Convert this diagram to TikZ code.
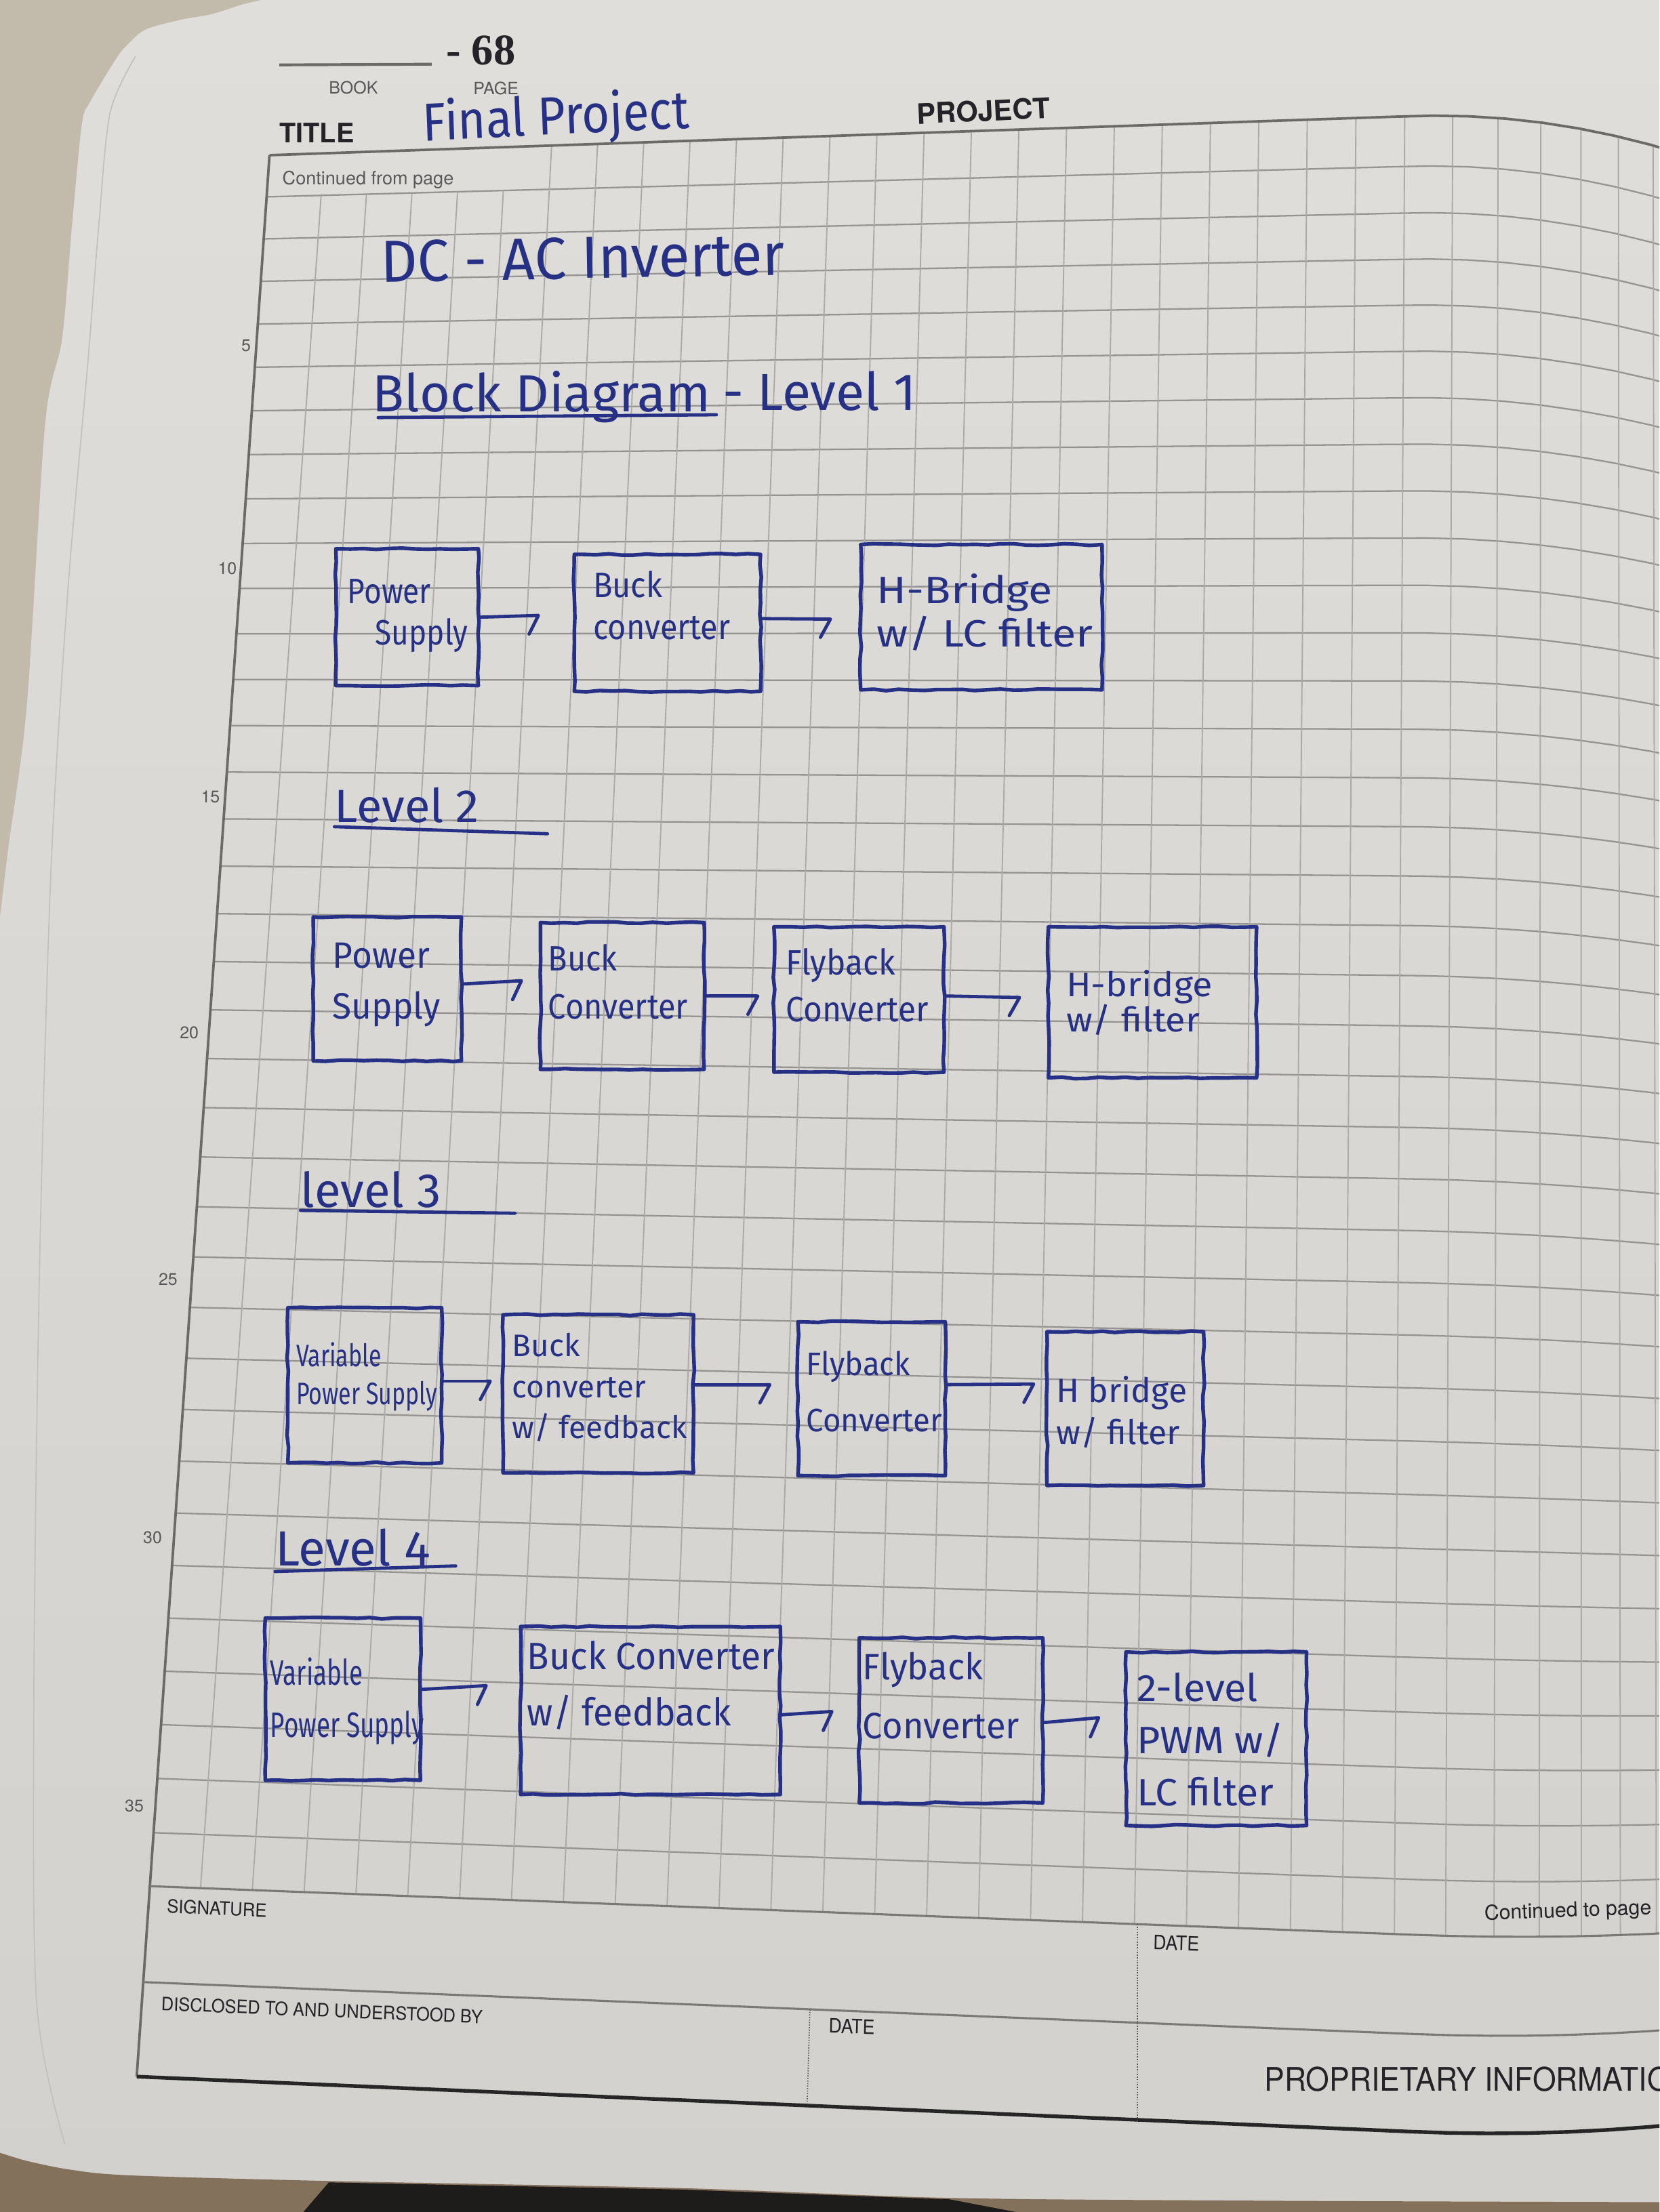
\documentclass[tikz,border=0pt]{standalone}
\usepackage{fontspec}
\usetikzlibrary{arrows.meta,calc,decorations.pathmorphing}
\newfontfamily\handfont{Fira Sans}
\newfontfamily\printfont{TeX Gyre Heros}
\newfontfamily\numfont{Liberation Serif}
\newcommand{\handsz}[2]{\handfont\fontsize{#1}{#2}\selectfont}
\newcommand{\printsz}[1]{\printfont\fontsize{#1}{#1}\selectfont}
\definecolor{ink}{RGB}{38,48,132}
\definecolor{paperlight}{RGB}{223,222,218}
\definecolor{paperdark}{RGB}{211,209,205}
\definecolor{desk}{RGB}{194,186,171}
\definecolor{deskbrown}{RGB}{132,113,92}
\definecolor{deskdark}{RGB}{30,28,27}
\definecolor{colgridh}{RGB}{150,148,146}
\definecolor{colgridv}{RGB}{172,170,168}
\definecolor{colrule}{RGB}{108,106,104}
\definecolor{printed}{RGB}{36,36,40}
\definecolor{faint}{RGB}{88,88,90}
\begin{document}
\pgfmathsetseed{11}
\begin{tikzpicture}[x=1pt,y=-1pt,
  declare function={
    gxl(\w)=191-0.0691*(\w-110);
    gsl(\w)=-0.0345+0.073*(max((\w-110)/1227,0.0001))^0.6;
    gq(\z)=max(0,(\z-1000)/176);
    gy(\w,\z)=\w+gsl(\w)*(\z-gxl(\w))+0.0291*(1074-\w)*gq(\z)*gq(\z);
    gcx(\z)=\z-0.00081*(max(0,\z-1000))*(max(0,\z-1000));
  },
  hw/.style={text=ink, inner sep=0pt, align=left},
  blk/.style={draw=ink, line width=2.6pt, line join=round, decorate,
    decoration={random steps, segment length=9pt, amplitude=0.6pt}, inner sep=0pt},
  conn/.style={draw=ink, line width=2.3pt, line cap=round,
    -{Straight Barb[harpoon,swap,length=7pt,width=26pt,round]}},
  inkline/.style={draw=ink, line width=2.3pt, line cap=round},
  gridh/.style={draw=colgridh, line width=1.1pt},
  gridv/.style={draw=colgridv, line width=0.9pt},
  pageframe/.style={draw=colrule, line width=1.8pt},
  footrule/.style={draw=colrule!90, line width=1.5pt},
  botrule/.style={draw=black!85, line width=2.6pt},
  divider/.style={draw=faint, line width=0.8pt, densely dotted},
  lbl/.style={text=printed, inner sep=0pt},
  small/.style={text=faint, inner sep=0pt},
]
\useasboundingbox (0,0) rectangle (1176,1568);
\clip (0,0) rectangle (1176,1568);

% paper, desk and the page stack
\shade[top color=paperlight, bottom color=paperdark] (0,0) rectangle (1176,1568);
\fill[desk] (0,0) -- (185,0) -- plot[smooth] coordinates {(172,3) (150,10) (128,14) (103,21) (90,32) (82,42) (64,72) (58,88) (51,160) (44,240) (32,300) (19,500) (6,600) (0,650)} -- cycle;
\draw[paperdark!92!black, line width=0.8pt] plot[smooth] coordinates {(96,40) (78,80) (70,160) (62,260) (48,420) (36,620) (28,900) (24,1200) (26,1420) (46,1520)};
\fill[deskbrown] plot[smooth] coordinates {(0,1526) (20,1532) (50,1538) (92,1542) (233,1546) (481,1551) (673,1558) (900,1560) (1176,1561)} -- (1176,1568) -- (0,1568) -- cycle;
\fill[deskdark] (233,1547) -- (481,1552) -- (673,1559) -- (720,1568) -- (215,1568) -- cycle;

% ruled grid, top row left open for the "Continued from page" label
\begin{scope}
  \clip plot[domain=191:1196,samples=40,variable=\q] (\q,{gy(110,\q)}) -- plot[domain=1196:106.2,samples=40,variable=\q] (\q,{gy(1337,\q)}) -- cycle;
  \foreach \j in {1,...,35}{
    \pgfmathsetmacro\yl{110+29.41*\j+0.1304*\j*\j}
    \pgfmathsetmacro\xa{gxl(\yl)-5}
    \draw[gridh] plot[domain=\xa:1196,samples=40,variable=\q] (\q,{gy(\yl,\q)});
  }
  \foreach \k in {5,...,29}{
    \pgfmathsetmacro\xt{gcx(227.5+32*\k+0.06*\k*\k)}
    \pgfmathsetmacro\xb{gcx(142+36.8*\k)}
    \coordinate (vt) at (\xt,140);
    \coordinate (vb) at (\xb,1340);
    \draw[gridv] ($(vt)!-0.1!(vb)$) -- ($(vb)!-0.1!(vt)$);
  }
\end{scope}
\begin{scope}
  \clip plot[domain=150:1196,samples=40,variable=\q] (\q,{gy(139.54,\q)}) -- plot[domain=1196:106.2,samples=40,variable=\q] (\q,{gy(1337,\q)}) -- cycle;
  \foreach \k in {0,...,4}{
    \pgfmathsetmacro\xt{227.5+32*\k+0.06*\k*\k}
    \pgfmathsetmacro\xb{142+36.8*\k}
    \coordinate (vt) at (\xt,140);
    \coordinate (vb) at (\xb,1340);
    \draw[gridv] ($(vt)!-0.1!(vb)$) -- ($(vb)!-0.1!(vt)$);
  }
\end{scope}

% frame and footer rules
\draw[pageframe] plot[domain=191:1196,samples=40,variable=\q] (\q,{gy(110,\q)});
\draw[pageframe] (191,110) -- (96.9,1472);
\draw[footrule] plot[domain=106.2:1196,samples=40,variable=\q] (\q,{gy(1337,\q)});
\pgfmathsetmacro\xdis{gxl(1405)}
\draw[footrule] plot[domain=\xdis:1196,samples=40,variable=\q] (\q,{gy(1405,\q)});
\draw[botrule] plot[domain=96.9:1196,samples=40,variable=\q] (\q,{gy(1472,\q)});
\pgfmathsetmacro\da{gy(1337,806)}
\pgfmathsetmacro\db{gy(1472,806)}
\pgfmathsetmacro\dc{gy(1405,574)}
\pgfmathsetmacro\dd{gy(1472,572)}
\draw[divider] (806,\da) -- (806,\db);
\draw[divider] (574,\dc) -- (572,\dd);

% printed header
\draw[draw=colrule, line width=2pt] (198,46) -- (306,45.5);
\node[small, font=\printsz{12}] (book) at (250.5,62) {BOOK};
\node[small, font=\printsz{12}] (pagelbl) at (351.5,62.5) {PAGE};
\node[lbl, font=\numfont\bfseries\fontsize{31}{31}\selectfont, text depth=0pt, anchor=base west] (pgno) at (316,46) {- 68};
\node[lbl, font=\printfont\bfseries\fontsize{19}{19}\selectfont, anchor=base west] (ttl) at (198,101) {TITLE};
\node[lbl, font=\printfont\bfseries\fontsize{20}{20}\selectfont, rotate=2.6, anchor=base west] (proj) at (650,88) {PROJECT};
\node[small, font=\printsz{13}, anchor=base west] (cfp) at (200,131) {Continued from page};

% line numbers
\foreach \nn/\xx/\yy in {5/178/245, 10/168/403, 15/156/565, 20/141/732, 25/126/907, 30/115/1090, 35/102/1280}
  \node[small, font=\printsz{12}, anchor=east] (ln\nn) at (\xx,\yy) {\nn};

% printed footer
\node[lbl, font=\printsz{13}, xscale=0.95, rotate=-2.2, anchor=base west] (sig) at (118,1356) {SIGNATURE};
\node[lbl, font=\printsz{14}, xscale=0.92, rotate=-1.5, anchor=base west] (date1) at (817,1382) {DATE};
\node[lbl, font=\printsz{14.5}, rotate=2, anchor=base west] (ctp) at (1052,1361) {Continued to page};
\node[lbl, font=\printsz{13}, xscale=0.94, rotate=-2.2, anchor=base west] (disc) at (114,1425) {DISCLOSED TO AND UNDERSTOOD BY};
\node[lbl, font=\printsz{14}, xscale=0.92, rotate=-1.5, anchor=base west] (date2) at (587,1441) {DATE};
\node[lbl, font=\printsz{23}, xscale=0.93, anchor=base west] (prop) at (896,1482) {PROPRIETARY INFORMATION};

% handwritten headings
\node[hw, font=\handsz{38}{40}, xscale=0.89, rotate=2.5, anchor=base west] (fp) at (300,100) {Final Project};
\node[hw, font=\handsz{42}{44}, xscale=0.96, rotate=1, anchor=base west] (dcac) at (270,200) {DC - AC Inverter};
\node[hw, font=\handsz{37}{40}, anchor=base west] (bd) at (264,292) {Block Diagram};
\node[hw, font=\handsz{37}{40}, anchor=base west] (lv1) at (512,291) {- Level 1};
\draw[inkline] ($(bd.base west)+(4,4)$) -- ($(bd.base east)+(4,2)$);
\node[hw, font=\handsz{33}{36}, anchor=base west] (lv2) at (237,583) {Level 2};
\draw[inkline] ($(lv2.base west)+(0,3)$) -- ++(151,5);
\node[hw, font=\handsz{34}{36}, anchor=base west] (lv3) at (213,856) {level 3};
\draw[inkline] ($(lv3.base west)+(0,2)$) -- ++(152,2);
\node[hw, font=\handsz{35}{38}, anchor=base west] (lv4) at (195,1110) {Level 4};
\draw[inkline] ($(lv4.base west)+(0,4)$) -- ++(128,-4);

% level 1
\node[blk, minimum width=101pt, minimum height=97pt] (b11) at (288.5,437.5) {};
\node[blk, minimum width=132pt, minimum height=97pt] (b12) at (473,441.5) {};
\node[blk, minimum width=171pt, minimum height=103pt] (b13) at (695.5,437.5) {};
\node[hw, font=\handsz{25}{29}, xscale=0.85] (t11) at (289,436.5) {Power\\\hspace*{23pt}Supply};
\node[hw, font=\handsz{25}{30}, xscale=0.9] (t12) at (469,429) {Buck\\converter};
\node[hw, font=\handsz{27}{31}, xscale=1.15] (t13) at (698,434) {H-Bridge\\w/ LC filter};
\draw[conn, shorten >=23pt] (b11.east) -- ([yshift=6pt]b12.west);
\draw[conn, shorten >=19pt] ([yshift=3pt]b12.east) -- ([yshift=-1.5pt]b13.west);

% level 2
\node[blk, minimum width=105pt, minimum height=102pt] (b21) at (274.5,701) {};
\node[blk, minimum width=116pt, minimum height=104pt] (b22) at (441,706) {};
\node[blk, minimum width=120.5pt, minimum height=103pt] (b23) at (608.75,708.5) {};
\node[blk, minimum width=147.6pt, minimum height=107pt] (b24) at (816.8,710.5) {};
\node[hw, font=\handsz{26}{36}, xscale=0.95] (t21) at (274,698) {Power\\Supply};
\node[hw, font=\handsz{25}{34}, xscale=0.9] (t22) at (438,696) {Buck\\Converter};
\node[hw, font=\handsz{25}{33}, xscale=0.92] (t23) at (607.5,698.5) {Flyback\\Converter};
\node[hw, font=\handsz{24}{25}, xscale=1.08] (t24) at (807.5,711) {H-bridge\\w/ filter};
\draw[conn, shorten >=11pt] ([yshift=3.5pt]b21.east) -- ([yshift=11.5pt]b22.west);
\draw[conn, shorten >=9pt] (b22.east) -- ([yshift=2.5pt]b23.west);
\draw[conn, shorten >=18pt] ([yshift=2.5pt]b23.east) -- ([yshift=3pt]b24.west);

% level 3
\node[blk, minimum width=109pt, minimum height=110pt] (b31) at (258.5,982) {};
\node[blk, minimum width=135pt, minimum height=112pt] (b32) at (424,988) {};
\node[blk, minimum width=104.5pt, minimum height=109pt] (b33) at (617.75,991.5) {};
\node[blk, minimum width=111pt, minimum height=109pt] (b34) at (797.5,998.5) {};
\node[hw, font=\handsz{22}{27}, xscale=0.74] (t31) at (260,976) {Variable\\Power Supply};
\node[hw, font=\handsz{22}{29}] (t32) at (425,983.5) {Buck\\converter\\w/ feedback};
\node[hw, font=\handsz{23}{40}, xscale=0.95] (t33) at (619.5,986.5) {Flyback\\Converter};
\node[hw, font=\handsz{24}{30}] (t34) at (795,1001) {H bridge\\w/ filter};
\draw[conn, shorten >=6.6pt] ([yshift=3pt]b31.east) -- ([yshift=9pt]b32.west);
\draw[conn, shorten >=17.5pt] ([yshift=6.5pt]b32.east) -- ([yshift=10pt]b33.west);
\draw[conn, shorten >=7pt] ([yshift=10pt]b33.east) -- ([yshift=17.5pt]b34.west);

% level 4
\node[blk, minimum width=110pt, minimum height=115pt] (b41) at (243,1204.5) {};
\node[blk, minimum width=184pt, minimum height=119pt] (b42) at (461,1212.5) {};
\node[blk, minimum width=130pt, minimum height=117pt] (b43) at (674,1219.5) {};
\node[blk, minimum width=128pt, minimum height=123pt] (b44) at (862,1232.5) {};
\node[hw, font=\handsz{25}{37}, xscale=0.71] (t41) at (246,1206) {Variable\\Power Supply};
\node[hw, font=\handsz{27}{40}, xscale=0.95] (t42) at (461.5,1194.5) {Buck Converter\\w/ feedback};
\node[hw, font=\handsz{26}{42}, xscale=0.97] (t43) at (667,1202) {Flyback\\Converter};
\node[hw, font=\handsz{27}{37}, xscale=1.05] (t44) at (858,1233) {2-level\\PWM w/\\LC filter};
\draw[conn, shorten >=22pt] ([yshift=7pt]b41.east) -- ([yshift=19pt]b42.west);
\draw[conn, shorten >=17pt] ([yshift=-3pt]b42.east) -- ([yshift=7.5pt]b43.west);
\draw[conn, shorten >=17pt] ([yshift=-1.5pt]b43.east) -- ([yshift=16.5pt]b44.west);
\end{tikzpicture}
\end{document}
